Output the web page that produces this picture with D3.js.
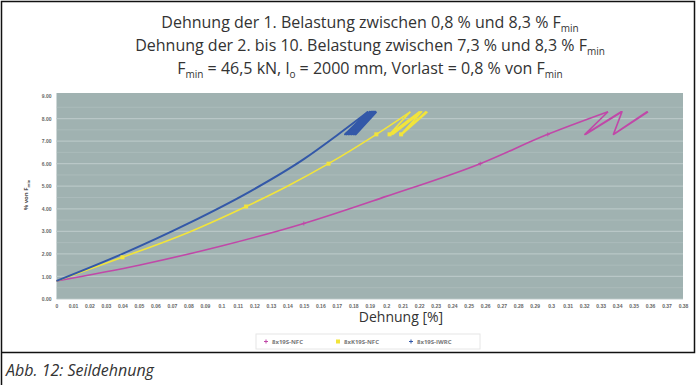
<!DOCTYPE html>
<html>
<head>
<meta charset="utf-8">
<script src="https://cdn.jsdelivr.net/npm/d3@7"></script>
<style>
  body { margin: 0; background: #fff; }
  svg { display: block; font-family: "Open Sans", sans-serif; }
</style>
</head>
<body>
<script>
// tick labels
const yTicks = [0, 1, 2, 3, 4, 5, 6, 7, 8, 9];
const xTicks = [0, 0.01, 0.02, 0.03, 0.04, 0.05, 0.06, 0.07, 0.08, 0.09, 0.1, 0.11, 0.12, 0.13,
  0.14, 0.15, 0.16, 0.17, 0.18, 0.19, 0.2, 0.21, 0.22, 0.23, 0.24, 0.25, 0.26, 0.27, 0.28,
  0.29, 0.3, 0.31, 0.32, 0.33, 0.34, 0.35, 0.36, 0.37, 0.38];

// series: [Dehnung %, % von Fmin]; first load, then reloads 7,3 -> 8,3
const nfcFirst = [[0, 0.8], [0.05, 1.5], [0.1, 2.35], [0.15, 3.35], [0.2, 4.55], [0.257, 6.0],
  [0.298, 7.3], [0.3345, 8.3]];
const nfcCycles = [[0.3345, 8.3], [0.3205, 7.3], [0.3425, 8.3], [0.321, 7.3], [0.343, 8.3],
  [0.3378, 7.3], [0.358, 8.3], [0.338, 7.3], [0.3588, 8.3]];
const nfcMarks = [[0.15, 3.35], [0.257, 6.0], [0.298, 7.3]];

const kNfcFirst = [[0, 0.8], [0.04, 1.85], [0.08, 2.95], [0.115, 4.1], [0.14, 5.0], [0.165, 6.0],
  [0.194, 7.3], [0.2146, 8.3]];
const kNfcCycles = [[0.2146, 8.3], [0.202, 7.3], [0.220, 8.3], [0.203, 7.3], [0.221, 8.3],
  [0.204, 7.3], [0.2215, 8.3], [0.209, 7.3], [0.224, 8.3], [0.2095, 7.3], [0.225, 8.3]];
const kNfcMarks = [[0.04, 1.85], [0.115, 4.1], [0.165, 6.0], [0.194, 7.3], [0.202, 7.3], [0.209, 7.3]];

const iwrcFirst = [[0, 0.8], [0.04, 2.0], [0.08, 3.35], [0.117, 4.75], [0.15, 6.2], [0.17, 7.25],
  [0.189, 8.3]];
const iwrcCycles = [[0.189, 8.3], [0.175, 7.3], [0.190, 8.3], [0.176, 7.3], [0.191, 8.3],
  [0.177, 7.3], [0.1915, 8.3], [0.178, 7.3], [0.192, 8.3], [0.179, 7.3], [0.1925, 8.3],
  [0.180, 7.3], [0.193, 8.3], [0.181, 7.3], [0.1935, 8.3], [0.1815, 7.3], [0.194, 8.3]];

const seriesNames = ['8x19S-NFC', '8xK19S-NFC', '8x19S-IWRC'];
const seriesColors = ['#c048a8', '#f2e43a', '#3358a8'];

const W = 696, H = 385;
const svg = d3.select('body').append('svg').attr('width', W).attr('height', H);

// frame
svg.append('path')
  .attr('d', 'M1.5,385 V1.5 H694.5 V352.5 H1.5')
  .attr('fill', 'none').attr('stroke', '#111').attr('stroke-width', 1.5);

// title
const title = svg.append('text').attr('text-anchor', 'middle').attr('fill', '#333')
  .attr('font-size', 16);
const l1 = title.append('tspan').attr('x', 370).attr('y', 28);
l1.append('tspan').text('Dehnung der 1. Belastung zwischen 0,8 % und 8,3 % F');
l1.append('tspan').attr('font-size', 10).attr('dy', 4).text('min');
const l2 = title.append('tspan').attr('x', 370).attr('y', 51);
l2.append('tspan').text('Dehnung der 2. bis 10. Belastung zwischen 7,3 % und 8,3 % F');
l2.append('tspan').attr('font-size', 10).attr('dy', 4).text('min');
const l3 = title.append('tspan').attr('x', 370).attr('y', 74);
l3.append('tspan').text('F');
l3.append('tspan').attr('font-size', 10).attr('dy', 4).text('min');
l3.append('tspan').attr('dy', -4).text(' = 46,5 kN, l');
l3.append('tspan').attr('font-size', 10).attr('dy', 4).text('o');
l3.append('tspan').attr('dy', -4).text(' = 2000 mm, Vorlast = 0,8 % von F');
l3.append('tspan').attr('font-size', 10).attr('dy', 4).text('min');

// plot area
const x = d3.scaleLinear().domain([0, 0.38]).range([56.5, 683]);
const y = d3.scaleLinear().domain([0, 9]).range([299, 96]);

svg.append('rect').attr('x', x(0)).attr('y', y(9) - 3).attr('width', x(0.38) - x(0))
  .attr('height', y(0) - y(9) + 3).attr('fill', '#a0b2b1');

// grid lines
svg.append('g').selectAll('line').data(d3.range(0, 9, 0.5)).join('line')
  .attr('x1', x(0)).attr('x2', x(0.38))
  .attr('y1', d => y(d)).attr('y2', d => y(d))
  .attr('stroke', '#bccaca').attr('stroke-width', d => d % 1 === 0 ? 1.2 : 0.8)
  .attr('opacity', d => d % 1 === 0 ? 0.9 : 0.5);

// axes
const yAxis = d3.axisLeft(y).tickValues(yTicks).tickFormat(d3.format('.2f')).tickSize(0).tickPadding(5);
svg.append('g').attr('transform', `translate(${x(0)},0)`).call(yAxis)
  .call(a => a.select('.domain').remove())
  .selectAll('text').attr('font-size', 5).attr('font-weight', 'bold').attr('fill', '#666');

const xAxis = d3.axisBottom(x).tickValues(xTicks).tickFormat(d => String(+d.toFixed(2))).tickSize(0).tickPadding(5);
svg.append('g').attr('transform', `translate(0,${y(0)})`).call(xAxis)
  .call(a => a.select('.domain').remove())
  .selectAll('text').attr('font-size', 5).attr('font-weight', 'bold').attr('fill', '#666');

// axis titles
svg.append('text').attr('x', 401).attr('y', 322).attr('text-anchor', 'middle')
  .attr('font-size', 14).attr('fill', '#333').text('Dehnung [%]');
const yt = svg.append('text').attr('transform', 'translate(28,195) rotate(-90)')
  .attr('text-anchor', 'middle').attr('font-size', 6).attr('font-weight', 'bold').attr('fill', '#555');
yt.append('tspan').text('% von F');
yt.append('tspan').attr('font-size', 4).attr('dy', 1.5).text('min');

// lines
const curve = d3.line().x(d => x(d[0])).y(d => y(d[1])).curve(d3.curveMonotoneX);
const zig = d3.line().x(d => x(d[0])).y(d => y(d[1]));
const firsts = [nfcFirst, kNfcFirst, iwrcFirst];
const cycles = [nfcCycles, kNfcCycles, iwrcCycles];
firsts.forEach((s, i) => {
  const w = i === 2 ? 2 : 1.6;
  svg.append('path').datum(s).attr('d', curve).attr('fill', 'none')
    .attr('stroke', seriesColors[i]).attr('stroke-width', w);
  svg.append('path').datum(cycles[i]).attr('d', zig).attr('fill', 'none')
    .attr('stroke', seriesColors[i]).attr('stroke-width', w).attr('stroke-linejoin', 'round');
});

// markers
svg.selectAll('rect.mk').data(kNfcMarks).join('rect')
  .attr('x', d => x(d[0]) - 2).attr('y', d => y(d[1]) - 2)
  .attr('width', 4).attr('height', 4).attr('fill', seriesColors[1]);
svg.selectAll('path.mkn').data(nfcMarks).join('path')
  .attr('d', d => `M${x(d[0]) - 2},${y(d[1])}h4M${x(d[0])},${y(d[1]) - 2}v4`)
  .attr('stroke', seriesColors[0]).attr('stroke-width', 1);

// legend
const lg = svg.append('g').attr('transform', 'translate(256,334)');
lg.append('rect').attr('width', 224).attr('height', 15).attr('fill', '#fff')
  .attr('stroke', '#e6e6e6');
const legX = [10, 82, 155];
seriesNames.forEach((n, i) => {
  const e = lg.append('g').attr('transform', `translate(${legX[i]},7.5)`);
  if (i === 1) e.append('rect').attr('x', -2).attr('y', -2).attr('width', 4).attr('height', 4).attr('fill', seriesColors[i]);
  else e.append('path').attr('d', 'M-2,0h4M0,-2v4').attr('stroke', seriesColors[i]).attr('stroke-width', 1);
  e.append('text').attr('x', 6).attr('y', 2).attr('font-size', 6).attr('font-weight', 'bold')
    .attr('fill', '#777').text(n);
});

// caption
svg.append('text').attr('x', 6).attr('y', 376).attr('font-size', 16).attr('font-style', 'italic')
  .attr('fill', '#333').text('Abb. 12: Seildehnung');
</script>
</body>
</html>
